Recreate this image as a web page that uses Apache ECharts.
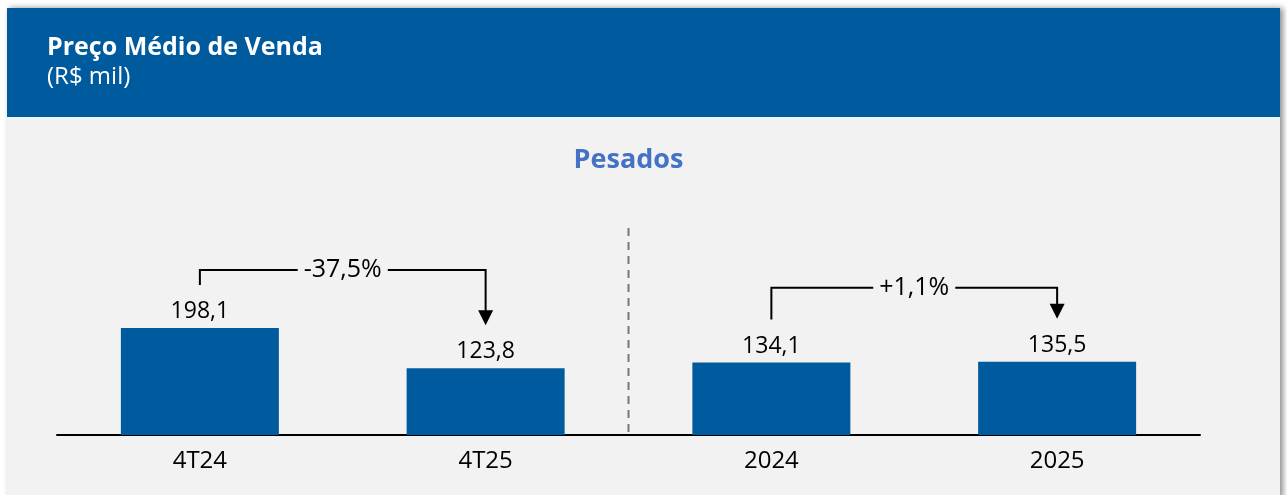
<!DOCTYPE html>
<html>
<head>
<meta charset="utf-8">
<script src="https://cdn.jsdelivr.net/npm/echarts@6/dist/echarts.min.js"></script>
<style>
  html, body { margin: 0; background: #fff; }
  #chart { width: 1287px; height: 495px; }
</style>
</head>
<body>
<div id="chart"></div>
<script>
const categories = ['4T24', '4T25', '2024', '2025']
const values = [198.1, 123.8, 134.1, 135.5]
// variações: índice de origem, índice de destino, texto
const changeFrom = [0, 2]
const changeTo = [1, 3]
const changeLabels = ['-37,5%', '+1,1%']

const BLUE = '#005A9E'
const PANEL = '#f2f2f2'
const FONT = '"Open Sans", "Noto Sans", sans-serif'

const fmt = v => v.toFixed(1).replace('.', ',')

const chart = echarts.init(document.getElementById('chart'))

chart.setOption({
  backgroundColor: '#fff',
  animation: false,
  textStyle: { fontFamily: FONT },
  grid: { left: 57, right: 87, top: 219, bottom: 60 },
  xAxis: {
    type: 'category',
    data: categories,
    axisLine: { lineStyle: { color: '#000', width: 2 } },
    axisTick: { show: false },
    axisLabel: { color: '#000', fontSize: 24, margin: 14, fontFamily: FONT }
  },
  yAxis: {
    type: 'value',
    min: 0,
    max: 400,
    show: false,
    splitLine: { show: false }
  },
  series: [{
    type: 'bar',
    data: values,
    barWidth: 158,
    itemStyle: { color: BLUE },
    label: {
      show: true,
      position: 'top',
      distance: 5,
      color: '#000',
      fontSize: 23,
      fontFamily: FONT,
      formatter: p => fmt(p.value)
    },
    z: 5
  }]
})

// desenha painel, títulos, separador e setas de variação
function drawDecor () {
  const pt = (i, v) => chart.convertToPixel({ seriesIndex: 0 }, [i, v])
  const base = pt(0, 0)[1]
  const g = [
    {
      type: 'rect', z: -20,
      shape: { x: 7, y: 8, width: 1273, height: 490 },
      style: { fill: PANEL, shadowBlur: 6, shadowOffsetX: 3, shadowColor: 'rgba(0,0,0,0.45)' }
    },
    {
      type: 'rect', z: -19,
      shape: { x: 7, y: 8, width: 1273, height: 109 },
      style: { fill: BLUE }
    },
    {
      type: 'text', z: 10,
      style: { text: 'Preço Médio de Venda', x: 47, y: 35, fill: '#fff', font: 'bold 25px ' + FONT }
    },
    {
      type: 'text', z: 10,
      style: { text: '(R$ mil)', x: 47, y: 65, fill: '#fff', font: '24px ' + FONT }
    }
  ]

  const left = pt(0, 0)[0]
  const right = pt(categories.length - 1, 0)[0]
  g.push({
    type: 'text', z: 10,
    style: {
      text: 'Pesados', x: (left + right) / 2, y: 160,
      align: 'center', verticalAlign: 'middle',
      fill: '#4472C4', font: 'bold 27px ' + FONT
    }
  })

  // linha tracejada entre trimestre e ano
  const sepX = (pt(1, 0)[0] + pt(2, 0)[0]) / 2
  g.push({
    type: 'line', z: 3,
    shape: { x1: sepX, y1: 228, x2: sepX, y2: base },
    style: { stroke: '#777', lineWidth: 2, lineDash: [8, 6] }
  })

  const lift = [58, 74]
  changeFrom.forEach((a, k) => {
    const b = changeTo[k]
    const pa = pt(a, values[a])
    const pb = pt(b, values[b])
    const lineY = Math.min(pa[1], pb[1]) - lift[k]
    const startY = pa[1] - 43
    const tipY = pb[1] - 43
    g.push({
      type: 'polyline', z: 10,
      shape: { points: [[pa[0], startY], [pa[0], lineY], [pb[0], lineY], [pb[0], tipY - 13]] },
      style: { stroke: '#000', lineWidth: 2, fill: null }
    })
    g.push({
      type: 'polygon', z: 10,
      shape: { points: [[pb[0] - 7.5, tipY - 15], [pb[0] + 7.5, tipY - 15], [pb[0], tipY]] },
      style: { fill: '#000' }
    })
    g.push({
      type: 'text', z: 11,
      style: {
        text: changeLabels[k], x: (pa[0] + pb[0]) / 2, y: lineY,
        align: 'center', verticalAlign: 'middle',
        fill: '#000', font: '25px ' + FONT,
        backgroundColor: PANEL, padding: [0, 6]
      }
    })
  })

  chart.setOption({ graphic: g })
}

drawDecor()
</script>
</body>
</html>
